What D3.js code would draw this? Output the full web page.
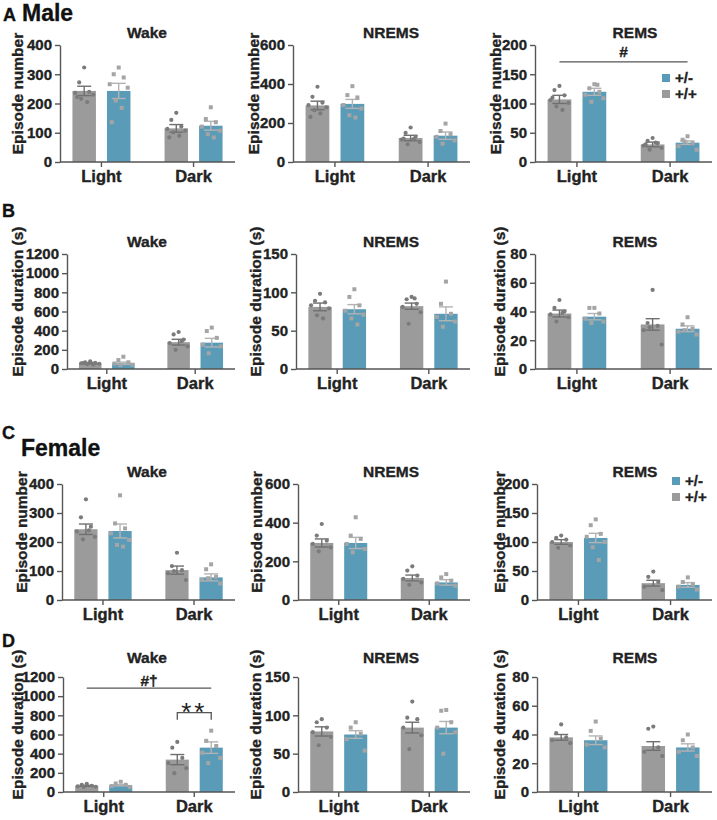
<!DOCTYPE html>
<html><head><meta charset="utf-8">
<script src="https://cdn.jsdelivr.net/npm/d3@7"></script>
<style>body{margin:0;background:#fff} svg{font-family:"Liberation Sans",Arial,Helvetica,sans-serif}
.hv{stroke:#222;stroke-width:0.35px;paint-order:stroke}</style>
</head><body><svg id="c" width="717" height="820"></svg>
<script>
const categories = ["Light", "Dark"];
const genotypes = ["+/+", "+/-"];
const stages = ["Wake", "NREMS", "REMS"];

const ticksNumWake = [0, 100, 200, 300, 400];
const ticksNumNREMS = [0, 200, 400, 600];
const ticksNumREMS = [0, 50, 100, 150, 200];
const ticksDurWake = [0, 200, 400, 600, 800, 1000, 1200];
const ticksDurNREMS = [0, 50, 100, 150];
const ticksDurREMS = [0, 20, 40, 60, 80];

// [Light:[+/+, +/-], Dark:[+/+, +/-]]
const maleNumWakeMean = [[243, 243], [115, 124]];
const maleNumWakeSem = [[16, 26], [13, 15]];
const maleNumWakePts = [[[323, 272, 240, 236, 230, 216, 205, 222], [323, 300, 289, 266, 254, 210, 185, 136]],
                        [[168, 144, 121, 113, 107, 101, 90, 84], [187, 147, 136, 121, 107, 95, 84]]];
const maleNumNREMSMean = [[290, 298], [123, 135]];
const maleNumNREMSSem = [[22, 23], [14, 19]];
const maleNumNREMSPts = [[[386, 334, 304, 292, 280, 266, 249, 231], [389, 343, 331, 292, 274, 240, 228]],
                         [[177, 149, 129, 115, 103, 91, 117, 120], [197, 159, 142, 129, 111, 94]]];
const maleNumREMSMean = [[107, 120], [30, 33]];
const maleNumREMSSem = [[7, 6], [4, 3]];
const maleNumREMSPts = [[[130, 123, 114, 106, 101, 95, 89, 110], [133, 126, 120, 115, 109, 103, 132]],
                        [[41, 36, 32, 28, 24, 21, 33, 30], [44, 38, 32, 27, 21, 35]]];

const maleDurWakeMean = [[60, 60], [280, 275]];
const maleDurWakeSem = [[7, 12], [30, 45]];
const maleDurWakePts = [[[80, 70, 65, 60, 55, 50, 45, 62], [128, 93, 70, 57, 45, 40]],
                        [[386, 361, 307, 271, 236, 200, 290], [432, 396, 325, 254, 236, 164]]];
const maleDurNREMSMean = [[81, 78], [82, 72]];
const maleDurNREMSSem = [[5, 6], [4, 9]];
const maleDurNREMSPts = [[[98, 89, 87, 83, 79, 70, 66], [104, 94, 83, 76, 71, 66, 58]],
                         [[94, 91, 85, 81, 74, 59, 92], [114, 85, 72, 68, 62, 55]]];
const maleDurREMSMean = [[38.6, 36.4], [31, 28]];
const maleDurREMSSem = [[2.4, 2.2], [4, 2]];
const maleDurREMSPts = [[[48, 42.5, 40, 38, 36, 33, 39], [42.5, 42.5, 38.6, 35, 33, 32]],
                        [[55, 32, 30, 27, 17, 29], [36, 31, 28, 26, 24, 27]]];

const femNumWakeMean = [[244, 238], [103, 78]];
const femNumWakeSem = [[18, 24], [14, 12]];
const femNumWakePts = [[[347, 285, 253, 236, 218, 209, 240], [361, 264, 247, 230, 207, 190, 184]],
                       [[163, 117, 103, 92, 69, 100], [123, 106, 80, 69, 57, 75]]];
const femNumNREMSMean = [[295, 295], [114, 91]];
const femNumNREMSSem = [[21, 29], [15, 14]];
const femNumNREMSPts = [[[393, 333, 307, 290, 272, 252], [428, 333, 316, 290, 264, 247]],
                        [[174, 152, 126, 109, 91, 79], [134, 117, 100, 86, 74]]];
const femNumREMSMean = [[100, 107], [29, 26]];
const femNumREMSSem = [[4, 8], [5, 4]];
const femNumREMSPts = [[[111, 107, 104, 100, 94, 90], [139, 129, 114, 109, 100, 91, 69]],
                       [[49, 40, 31, 23, 17], [39, 31, 27, 23, 18]]];

const femDurWakeMean = [[65, 70], [338, 463]];
const femDurWakeSem = [[5, 6], [53, 60]];
const femDurWakePts = [[[85, 75, 65, 60, 55, 53], [107, 89, 75, 62, 53]],
                       [[523, 463, 356, 302, 249, 196], [640, 534, 480, 409, 356, 302]]];
const femDurNREMSMean = [[79, 75], [84, 84]];
const femDurNREMSSem = [[6, 5], [7, 8]];
const femDurNREMSPts = [[[95, 91, 84, 78, 72, 61], [91, 84, 76, 69, 54]],
                        [[118, 97, 95, 84, 74, 56], [107, 106, 91, 84, 78, 50]]];
const femDurREMSMean = [[38, 36], [32, 31]];
const femDurREMSSem = [[2, 3], [3, 2.5]];
const femDurREMSPts = [[[47, 41, 38, 36, 34], [49, 42.5, 37, 33, 31]],
                       [[45.5, 44, 31, 28, 25], [40, 36, 31, 28, 25]]];

// ---------- layout ----------
const rowBox = [[45, 162], [254, 369], [484, 600], [677, 792]];
const axisLeft = [[60, 293, 535], [67, 296, 535], [62, 298, 537], [63, 298, 537]];
const axisRight = [235, 470, 712];
const labelX = [[23, 259, 501], [23, 261, 505], [27, 262, 505], [23, 261, 505]];
const titleX = [147, 391, 635];
const titleY = [38, 247, 477, 663];

const colGray = "#9b9b9b", colBlue = "#5a9bb8";
const jitter = [0, -5, 5, -9, 9, -3, 3, -7];

const svg = d3.select("#c");

const panels = [
  [maleNumWakeMean, maleNumWakeSem, maleNumWakePts, ticksNumWake, "Episode number"],
  [maleNumNREMSMean, maleNumNREMSSem, maleNumNREMSPts, ticksNumNREMS, "Episode number"],
  [maleNumREMSMean, maleNumREMSSem, maleNumREMSPts, ticksNumREMS, "Episode number"],
  [maleDurWakeMean, maleDurWakeSem, maleDurWakePts, ticksDurWake, "Episode duration (s)"],
  [maleDurNREMSMean, maleDurNREMSSem, maleDurNREMSPts, ticksDurNREMS, "Episode duration (s)"],
  [maleDurREMSMean, maleDurREMSSem, maleDurREMSPts, ticksDurREMS, "Episode duration (s)"],
  [femNumWakeMean, femNumWakeSem, femNumWakePts, ticksNumWake, "Episode number"],
  [femNumNREMSMean, femNumNREMSSem, femNumNREMSPts, ticksNumNREMS, "Episode number"],
  [femNumREMSMean, femNumREMSSem, femNumREMSPts, ticksNumREMS, "Episode number"],
  [femDurWakeMean, femDurWakeSem, femDurWakePts, ticksDurWake, "Episode duration (s)"],
  [femDurNREMSMean, femDurNREMSSem, femDurNREMSPts, ticksDurNREMS, "Episode duration (s)"],
  [femDurREMSMean, femDurREMSSem, femDurREMSPts, ticksDurREMS, "Episode duration (s)"]
];

const scales = [];

panels.forEach((p, idx) => {
  const [means, sems, pts, ticks, ylab] = p;
  const r = Math.floor(idx / 3), c = idx % 3;
  const [yTop, yZero] = rowBox[r];
  const x0 = axisLeft[r][c], x1 = axisRight[c];
  const y = d3.scaleLinear().domain([0, d3.max(ticks)]).range([yZero, yTop]);
  const x = d3.scaleBand().domain(categories).range([x0, x1]).paddingInner(0.2).paddingOuter(0.05);
  const xi = d3.scaleBand().domain(genotypes).range([0, x.bandwidth()]).paddingInner(0.32).paddingOuter(0.227);
  scales.push({x, xi, y});
  const g = svg.append("g");

  categories.forEach((cat, ci) => {
    genotypes.forEach((gt, gi) => {
      const bx = x(cat) + xi(gt);
      const bw = xi.bandwidth();
      const cx = bx + bw / 2;
      const m = means[ci][gi], s = sems[ci][gi];
      g.append("rect").attr("x", bx).attr("width", bw)
        .attr("y", y(m)).attr("height", y(0) - y(m))
        .attr("fill", gi === 0 ? colGray : colBlue);
      const ec = gi === 0 ? "#6f6f6f" : "#b3b3b3";
      const eg = g.append("g").attr("stroke", ec).attr("stroke-width", 1.4).attr("fill", "none");
      eg.append("line").attr("x1", cx).attr("x2", cx).attr("y1", y(m - s)).attr("y2", y(m + s));
      eg.append("line").attr("x1", cx - 7).attr("x2", cx + 7).attr("y1", y(m + s)).attr("y2", y(m + s));
      eg.append("line").attr("x1", cx - 7).attr("x2", cx + 7).attr("y1", y(m - s)).attr("y2", y(m - s));
      pts[ci][gi].forEach((v, k) => {
        const px = cx + jitter[k % jitter.length];
        if (gi === 0) {
          g.append("circle").attr("cx", px).attr("cy", y(v)).attr("r", 2.1).attr("fill", "#7b7b7b");
        } else {
          g.append("rect").attr("x", px - 2).attr("y", y(v) - 2).attr("width", 4).attr("height", 4).attr("fill", "#a5a5a5");
        }
      });
    });
  });

  const ya = g.append("g").attr("transform", `translate(${x0},0)`)
    .call(d3.axisLeft(y).tickValues(ticks).tickSize(5).tickSizeOuter(0).tickPadding(3).tickFormat(d3.format("d")));
  ya.selectAll("text").attr("font-size", 15).attr("font-weight", "bold").attr("fill", "#222").attr("class", "hv");
  ya.selectAll("line,path").attr("stroke", "#555").attr("stroke-width", 1.4);
  const xa = g.append("g").attr("transform", `translate(0,${yZero})`)
    .call(d3.axisBottom(x).tickSize(5).tickSizeOuter(0).tickPadding(3));
  xa.select("path").attr("d", `M${x0},0H${x1}`);
  xa.selectAll("text").attr("font-size", 16.5).attr("font-weight", "bold").attr("fill", "#222").attr("class", "hv");
  xa.selectAll("line,path").attr("stroke", "#555").attr("stroke-width", 1.4);

  g.append("text").attr("transform", `translate(${labelX[r][c]},${(yTop + yZero) / 2 - 10}) rotate(-90)`)
    .attr("text-anchor", "middle").attr("font-size", 15.5).attr("font-weight", "bold").attr("fill", "#222")
    .attr("class", "hv").text(ylab);
  g.append("text").attr("x", titleX[c]).attr("y", titleY[r]).attr("text-anchor", "middle")
    .attr("font-size", 15.5).attr("font-weight", "bold").attr("fill", "#222").attr("class", "hv").text(stages[c]);
});

const heads = [["A", 3, 21, 18], ["B", 2, 217, 18], ["C", 2, 439, 18], ["D", 2, 647, 18]];
heads.forEach(h => svg.append("text").attr("x", h[1]).attr("y", h[2]).attr("font-size", h[3])
  .attr("font-weight", "bold").attr("fill", "#111").attr("class", "hv").text(h[0]));
svg.append("text").attr("x", 22).attr("y", 21).attr("font-size", 23).attr("font-weight", "bold").attr("fill", "#111").attr("class", "hv").text("Male");
svg.append("text").attr("x", 21).attr("y", 456).attr("font-size", 23).attr("font-weight", "bold").attr("fill", "#111").attr("class", "hv").text("Female");

function legend(lx, ly) {
  const items = [["+/-", colBlue], ["+/+", colGray]];
  items.forEach((it, i) => {
    svg.append("rect").attr("x", lx).attr("y", ly + i * 16 - 4).attr("width", 8).attr("height", 8).attr("fill", it[1]);
    svg.append("text").attr("x", lx + 13).attr("y", ly + i * 16 + 5).attr("font-size", 15).attr("font-weight", "bold")
      .attr("fill", "#222").attr("class", "hv").text(it[0]);
  });
}
legend(662, 78);
legend(672, 481);

{
  const s = scales[2];
  const xa = s.x("Light") + s.xi("+/+") + s.xi.bandwidth() / 2;
  const xb = s.x("Dark") + s.xi("+/-") + s.xi.bandwidth() / 2;
  const ly = s.y(171);
  svg.append("line").attr("x1", xa).attr("x2", xb).attr("y1", ly).attr("y2", ly).attr("stroke", "#555").attr("stroke-width", 1.3);
  svg.append("text").attr("x", (xa + xb) / 2).attr("y", ly - 5).attr("text-anchor", "middle")
    .attr("font-size", 15.5).attr("font-weight", "bold").attr("fill", "#222").attr("class", "hv").text("#");
}
{
  const s = scales[9];
  const xa = s.x("Light") + s.xi("+/+") + s.xi.bandwidth() / 2;
  const xb = s.x("Dark") + s.xi("+/-") + s.xi.bandwidth() / 2;
  const ly = s.y(1083);
  svg.append("line").attr("x1", xa).attr("x2", xb).attr("y1", ly).attr("y2", ly).attr("stroke", "#555").attr("stroke-width", 1.3);
  svg.append("text").attr("x", (xa + xb) / 2).attr("y", ly - 2).attr("text-anchor", "middle")
    .attr("font-size", 15.5).attr("font-weight", "bold").attr("fill", "#222").attr("class", "hv").text("#†");
  const xc = s.x("Dark") + s.xi("+/+") + s.xi.bandwidth() / 2;
  const by = s.y(828), by2 = s.y(755);
  svg.append("path").attr("d", `M${xc},${by2}V${by}H${xb}V${by2}`).attr("fill", "none").attr("stroke", "#555").attr("stroke-width", 1.3);
  svg.append("text").attr("x", (xc + xb) / 2).attr("y", by + 8).attr("text-anchor", "middle")
    .attr("font-size", 26).attr("letter-spacing", 3).attr("fill", "#222").text("**");
}
</script></body></html>
